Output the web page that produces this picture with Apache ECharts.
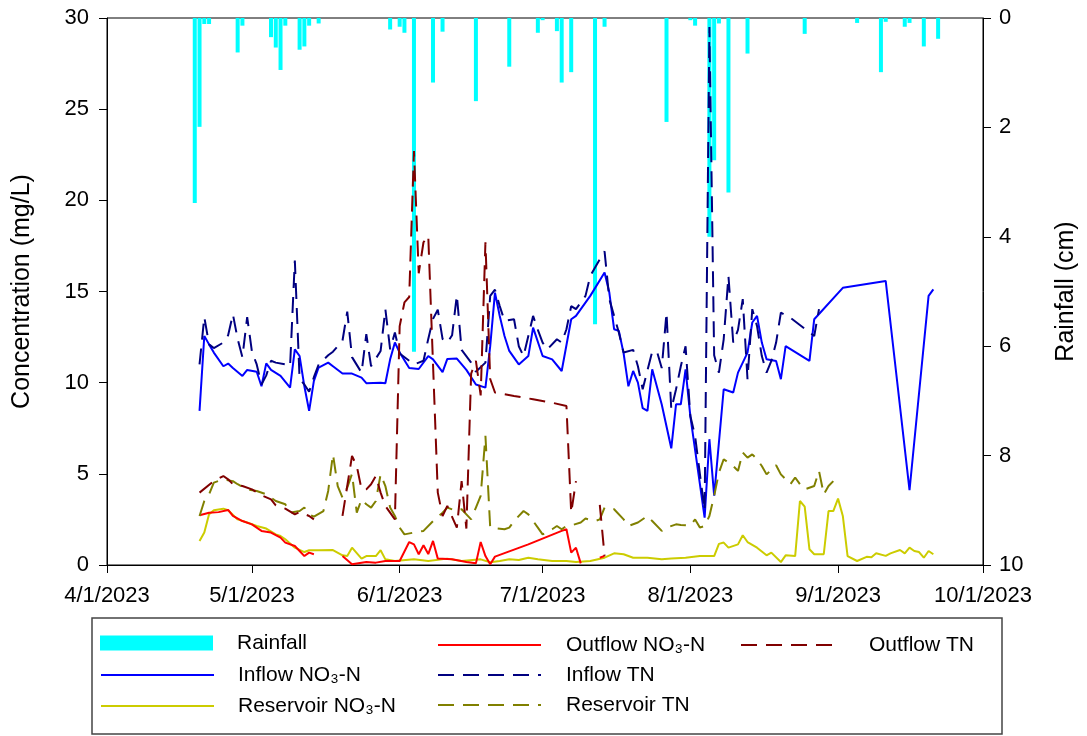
<!DOCTYPE html>
<html>
<head>
<meta charset="utf-8">
<script src="https://cdn.jsdelivr.net/npm/echarts@6/dist/echarts.min.js"></script>
<style>
  html, body { margin: 0; padding: 0; background: #fff; }
  #chart { width: 1087px; height: 736px; }
</style>
</head>
<body>
<div id="chart"></div>
<script>
// values, [month/day of 2023, value]
const rainfall = [['4/19',3.38],['4/20',1.99],['4/21',0.11],['4/22',0.11],['4/28',0.63],['4/29',0.14],
  ['5/5',0.35],['5/6',0.54],['5/7',0.95],['5/8',0.14],['5/11',0.58],['5/12',0.52],['5/13',0.14],['5/15',0.10],
  ['5/30',0.21],['6/1',0.16],['6/2',0.27],['6/4',6.10],['6/8',1.18],['6/10',0.25],['6/17',1.52],['6/24',0.89],
  ['6/30',0.27],['7/1',0.04],['7/4',0.24],['7/5',1.18],['7/7',0.99],['7/12',5.60],['7/14',0.16],['7/27',1.90],
  ['8/1',0.04],['8/2',0.14],['8/5',4.00],['8/6',2.60],['8/7',0.10],['8/9',3.19],['8/13',0.65],['8/25',0.29],
  ['9/5',0.09],['9/10',0.99],['9/11',0.07],['9/15',0.16],['9/16',0.09],['9/19',0.52],['9/22',0.38]];

const inflowNO3 = [['4/20',8.45],['4/21',12.56],['4/22',12.1],['4/23',11.65],['4/25',10.9],['4/26',11.05],
  ['4/27',10.8],['4/29',10.37],['4/30',10.7],['5/2',10.6],['5/3',9.8],['5/4',11.06],['5/5',10.7],['5/7',10.37],
  ['5/9',9.73],['5/10',11.83],['5/11',11.46],['5/12',9.8],['5/13',8.45],['5/14',10.1],['5/15',10.83],['5/17',11.1],
  ['5/18',10.9],['5/20',10.5],['5/22',10.5],['5/24',10.28],['5/25',9.97],['5/28',10.0],['5/29',9.97],['5/30',11.28],
  ['5/31',12.2],['6/1',11.65],['6/3',10.8],['6/5',10.75],['6/7',11.46],['6/8',11.28],['6/10',10.58],['6/11',11.3],
  ['6/13',11.32],['6/15',10.7],['6/17',9.9],['6/19',9.73],['6/20',12.0],['6/21',14.94],['6/22',13.66],['6/23',12.56],
  ['6/24',11.74],['6/26',11.0],['6/28',11.46],['6/29',13.02],['7/1',11.46],['7/3',11.28],['7/5',10.64],['7/7',13.48],
  ['7/8',13.66],['7/11',14.76],['7/14',16.04],['7/15',14.94],['7/16',12.93],['7/17',12.84],['7/18',11.6],['7/19',9.8],
  ['7/20',10.64],['7/21',10.0],['7/22',8.6],['7/23',8.45],['7/24',10.73],['7/26',8.8],['7/28',6.4],['7/29',8.81],
  ['7/30',8.81],['7/31',10.73],['8/1',8.17],['8/4',2.6],['8/5',6.9],['8/6',3.8],['8/8',9.64],['8/10',9.46],
  ['8/11',10.55],['8/13',11.65],['8/14',13.3],['8/15',13.66],['8/16',12.2],['8/17',11.28],['8/19',11.19],
  ['8/20',10.19],['8/21',12.0],['8/26',11.19],['8/27',13.48],['9/2',15.2],['9/11',15.58],['9/16',4.1],
  ['9/20',14.76],['9/21',15.12]];

const inflowTN = [['4/20',11.0],['4/21',13.6],['4/22',12.1],['4/23',11.9],['4/25',12.2],['4/26',12.6],
  ['4/27',13.75],['4/28',12.4],['4/29',11.4],['4/30',13.6],['5/1',11.7],['5/2',11.0],['5/3',9.9],['5/4',10.4],
  ['5/5',11.2],['5/6',11.1],['5/8',11.0],['5/9',10.9],['5/10',16.7],['5/11',10.2],['5/12',9.9],['5/13',9.5],
  ['5/14',10.3],['5/15',11.0],['5/17',11.5],['5/18',11.7],['5/20',12.3],['5/21',13.9],['5/22',11.4],['5/24',10.55],
  ['5/25',12.66],['5/26',10.9],['5/28',11.74],['5/29',14.03],['5/30',11.83],['5/31',12.75],['6/1',11.6],['6/3',11.2],
  ['6/4',11.0],['6/5',11.1],['6/6',11.2],['6/7',12.4],['6/8',13.5],['6/9',14.0],['6/10',12.4],['6/11',12.2],
  ['6/12',12.6],['6/13',14.8],['6/14',11.8],['6/16',11.1],['6/17',10.6],['6/19',11.1],['6/20',14.76],['6/21',15.1],
  ['6/22',14.2],['6/23',13.4],['6/25',13.48],['6/26',12.0],['6/27',11.46],['6/29',13.66],['6/30',12.9],['7/1',12.2],
  ['7/2',11.83],['7/4',12.38],['7/5',12.2],['7/6',12.93],['7/7',14.2],['7/8',14.03],['7/10',14.76],['7/11',15.85],
  ['7/13',16.77],['7/14',17.2],['7/15',14.58],['7/17',12.75],['7/18',11.65],['7/20',11.8],['7/21',10.9],['7/22',9.64],
  ['7/24',11.7],['7/25',11.7],['7/26',10.8],['7/27',13.84],['7/28',8.54],['7/29',9.64],['7/30',10.9],['7/31',12.0],
  ['8/1',8.17],['8/2',7.07],['8/3',5.0],['8/4',3.0],['8/5',29.5],['8/6',11.5],['8/7',10.55],['8/8',12.38],
  ['8/9',15.85],['8/10',12.2],['8/11',12.9],['8/12',14.58],['8/13',10.19],['8/14',14.03],['8/15',13.1],
  ['8/16',11.46],['8/17',10.55],['8/18',11.19],['8/19',12.2],['8/20',13.84],['8/22',13.56],['8/27',12.56],
  ['8/28',14.03]];

const outflowNO3 = [['4/20',2.73],['4/22',2.87],['4/24',2.9],['4/26',3.02],['4/27',2.69],['4/29',2.41],
  ['5/1',2.23],['5/3',1.87],['5/5',1.78],['5/7',1.5],['5/8',1.23],['5/10',1.04],['5/11',0.77],['5/12',0.49],
  ['5/13',0.68],['5/14',0.59],['5/17',null],['5/20',0.49],['5/22',0.04],['5/25',0.16],['5/27',0.13],['5/29',0.22],
  ['6/1',0.22],['6/3',1.26],['6/4',1.13],['6/5',0.59],['6/6',1.08],['6/7',0.6],['6/8',1.32],['6/9',0.35],
  ['6/12',0.31],['6/15',0.16],['6/17',0.09],['6/18',1.26],['6/19',0.49],['6/20',0.04],['6/21',0.46],['6/28',1.13],
  ['7/5',1.87],['7/6',1.96],['7/7',0.68],['7/8',0.95],['7/9',0.09],['7/11',null],['7/13',0.4],['7/14',0.5]];

const outflowTN = [['4/20',3.97],['4/23',4.6],['4/25',4.88],['4/26',4.7],['4/27',4.43],['4/29',4.33],
  ['5/1',4.15],['5/3',3.82],['5/5',3.6],['5/6',3.27],['5/8',3.09],['5/10',2.78],['5/11',2.9],['5/13',2.69],
  ['5/14',2.5],['5/17',null],['5/20',2.69],['5/22',5.98],['5/23',5.43],['5/24',4.15],['5/25',4.15],['5/26',4.43],
  ['5/27',4.88],['5/28',3.97],['5/29',3.24],['5/31',2.5],['6/1',13.1],['6/2',14.4],['6/3',14.7],['6/4',22.7],
  ['6/5',16.0],['6/6',17.7],['6/7',18.05],['6/9',3.97],['6/10',2.69],['6/11',3.24],['6/13',2.05],['6/14',4.6],
  ['6/15',2.0],['6/16',10.5],['6/17',11.2],['6/18',9.3],['6/19',17.7],['6/20',10.2],['6/21',9.46],['6/25',9.27],
  ['6/29',9.09],['7/3',8.9],['7/6',8.72],['7/7',2.87],['7/8',4.6],['7/10',null],['7/13',3.3],['7/14',0.5]];

const reservoirNO3 = [['4/20',1.32],['4/21',1.78],['4/22',2.78],['4/23',3.0],['4/25',3.09],['4/26',3.0],
  ['4/28',2.5],['4/30',2.33],['5/2',2.14],['5/4',2.0],['5/6',1.68],['5/7',1.59],['5/8',1.41],['5/10',0.95],
  ['5/12',0.71],['5/13',0.81],['5/15',0.81],['5/18',0.82],['5/20',0.53],['5/21',0.5],['5/22',0.95],['5/24',0.35],
  ['5/25',0.49],['5/27',0.49],['5/28',0.81],['5/29',0.31],['5/31',0.22],['6/4',0.31],['6/7',0.22],['6/11',0.35],
  ['6/14',0.22],['6/18',0.31],['6/20',0.15],['6/22',0.22],['6/24',0.31],['6/26',0.27],['6/28',0.4],['6/30',0.31],
  ['7/3',0.22],['7/6',0.22],['7/8',0.16],['7/11',0.22],['7/14',0.4],['7/16',0.64],['7/18',0.59],['7/20',0.4],
  ['7/23',0.4],['7/26',0.31],['7/28',0.35],['7/31',0.4],['8/3',0.49],['8/6',0.49],['8/7',1.16],['8/8',1.23],
  ['8/9',0.95],['8/11',1.13],['8/12',1.63],['8/13',1.26],['8/15',0.95],['8/17',0.53],['8/18',0.68],['8/20',0.16],
  ['8/21',0.53],['8/23',0.49],['8/24',3.51],['8/25',3.2],['8/26',0.86],['8/27',0.59],['8/29',0.59],['8/30',2.96],
  ['8/31',2.96],['9/1',3.64],['9/2',2.69],['9/3',0.49],['9/5',0.22],['9/7',0.45],['9/8',0.42],['9/9',0.64],
  ['9/11',0.5],['9/12',0.64],['9/14',0.82],['9/15',0.64],['9/16',0.95],['9/17',0.77],['9/18',0.71],['9/19',0.4],
  ['9/20',0.77],['9/21',0.59]];

const reservoirTN = [['4/20',2.69],['4/21',3.51],['4/22',3.88],['4/23',4.52],['4/25',4.7],['4/27',4.6],
  ['4/28',4.43],['4/30',4.15],['5/2',4.06],['5/4',3.88],['5/6',3.51],['5/8',3.33],['5/9',2.87],['5/11',2.96],
  ['5/12',3.15],['5/13',2.78],['5/14',2.65],['5/16',2.96],['5/17',4.06],['5/18',6.07],['5/19',4.33],['5/20',3.7],
  ['5/21',4.24],['5/22',5.0],['5/23',2.87],['5/24',3.6],['5/25',3.33],['5/26',3.15],['5/27',3.51],['5/28',4.97],
  ['5/29',4.33],['5/30',3.15],['5/31',2.69],['6/1',2.05],['6/2',1.68],['6/4',1.78],['6/6',1.87],['6/8',2.41],
  ['6/10',2.87],['6/11',3.15],['6/13',2.96],['6/14',3.06],['6/15',2.78],['6/16',2.5],['6/17',3.15],['6/18',3.79],
  ['6/19',7.08],['6/20',2.05],['6/23',1.96],['6/24',2.05],['6/25',2.41],['6/27',2.96],['6/28',2.78],['6/30',2.05],
  ['7/1',1.68],['7/3',1.96],['7/4',2.14],['7/5',1.96],['7/6',2.14],['7/7',2.17],['7/9',2.33],['7/10',2.55],
  ['7/12',2.41],['7/13',2.5],['7/14',3.15],['7/16',3.06],['7/18',2.5],['7/19',2.14],['7/21',2.33],['7/23',2.69],
  ['7/24',2.41],['7/26',1.87],['7/27',2.05],['7/29',2.23],['7/30',2.2],['8/1',2.17],['8/2',2.5],['8/3',2.05],
  ['8/4',2.14],['8/5',2.69],['8/6',3.79],['8/7',5.07],['8/8',5.8],['8/10',5.43],['8/11',5.16],['8/12',6.17],
  ['8/13',5.89],['8/14',6.07],['8/15',5.8],['8/16',5.43],['8/17',4.97],['8/19',5.47],['8/20',4.97],['8/22',4.43],
  ['8/23',4.8],['8/24',4.43],['8/25',4.15],['8/27',4.33],['8/28',5.16],['8/29',3.88],['8/30',4.33],['8/31',4.6]];

const FONT = 'Liberation Sans, Arial, sans-serif';

function toTime(md) {
  const [m, d] = md.split('/').map(Number);
  return new Date(2023, m - 1, d).getTime();
}
function pts(arr) {
  return arr.map(p => [toTime(p[0]), p[1]]);
}

function lineSeries(name, data, color, dashed) {
  return {
    name: name,
    type: 'line',
    data: pts(data),
    symbol: 'none',
    showSymbol: false,
    connectNulls: false,
    z: 3,
    lineStyle: { color: color, width: 2, type: dashed ? [16, 9] : 'solid' },
    itemStyle: { color: color }
  };
}

function legendAt(name, left, centerY, w, pad) {
  return {
    data: [name],
    left: left,
    top: centerY - 12,
    padding: 0,
    itemWidth: w,
    itemHeight: 15,
    selectedMode: false,
    itemStyle: { opacity: 0 },
    textStyle: { fontFamily: FONT, fontSize: 21, color: '#000', lineHeight: 24, padding: [0, 0, 0, pad] }
  };
}

const chart = echarts.init(document.getElementById('chart'));
chart.setOption({
  animation: false,
  backgroundColor: '#fff',
  grid: { left: 107, top: 18, width: 877, height: 547, show: true, borderColor: '#000', borderWidth: 1 },
  graphic: [{
    type: 'rect',
    shape: { x: 92, y: 618, width: 910, height: 116 },
    style: { fill: 'none', stroke: '#444', lineWidth: 1.5 }
  }],
  legend: [
    Object.assign(legendAt('Rainfall', 100, 643, 113, 19), { icon: 'rect', itemStyle: { opacity: 1 } }),
    legendAt('Inflow NO₃-N', 100, 675, 113, 19),
    legendAt('Reservoir NO₃-N', 100, 706, 113, 19),
    legendAt('Outflow NO₃-N', 437, 645, 103, 20),
    legendAt('Inflow TN', 437, 675, 103, 20),
    legendAt('Reservoir TN', 437, 705, 103, 20),
    legendAt('Outflow TN', 740, 645, 95, 28)
  ],
  xAxis: {
    type: 'time',
    min: toTime('4/1'),
    max: toTime('10/1'),
    minInterval: 28 * 86400000,
    maxInterval: 31 * 86400000,
    axisLine: { lineStyle: { color: '#000', width: 1 } },
    axisTick: { show: true, length: 8, lineStyle: { color: '#000' } },
    splitLine: { show: false },
    axisLabel: {
      margin: 20, color: '#000', fontFamily: FONT, fontSize: 22,
      showMinLabel: true, showMaxLabel: true,
      formatter: function (v) {
        const d = new Date(v + 12 * 3600000);
        return (d.getMonth() + 1) + '/' + d.getDate() + '/' + d.getFullYear();
      }
    }
  },
  yAxis: [{
    type: 'value',
    min: 0, max: 30, interval: 5,
    name: 'Concentration (mg/L)',
    nameLocation: 'middle',
    nameRotate: 90,
    nameGap: 72,
    nameTextStyle: { fontFamily: FONT, fontSize: 25, color: '#000' },
    axisLine: { show: true, lineStyle: { color: '#000', width: 1 } },
    axisTick: { show: true, length: 8, lineStyle: { color: '#000' } },
    splitLine: { show: false },
    axisLabel: { margin: 18, color: '#000', fontFamily: FONT, fontSize: 22 }
  }, {
    type: 'value',
    min: 0, max: 10, interval: 2,
    inverse: true,
    position: 'right',
    name: 'Rainfall (cm)',
    nameLocation: 'middle',
    nameRotate: 90,
    nameGap: 71,
    nameTextStyle: { fontFamily: FONT, fontSize: 25, color: '#000' },
    axisLine: { show: true, lineStyle: { color: '#000', width: 1 } },
    axisTick: { show: true, length: 8, lineStyle: { color: '#000' } },
    splitLine: { show: false },
    axisLabel: { margin: 16, color: '#000', fontFamily: FONT, fontSize: 22 }
  }],
  series: [
    {
      name: 'Rainfall',
      type: 'bar',
      yAxisIndex: 1,
      data: pts(rainfall),
      barWidth: 4,
      z: 2,
      itemStyle: { color: '#00ffff' }
    },
    lineSeries('Inflow NO₃-N', inflowNO3, '#0000ff', false),
    lineSeries('Reservoir NO₃-N', reservoirNO3, '#cccc00', false),
    lineSeries('Outflow NO₃-N', outflowNO3, '#ff0000', false),
    lineSeries('Inflow TN', inflowTN, '#000080', true),
    lineSeries('Reservoir TN', reservoirTN, '#808000', true),
    lineSeries('Outflow TN', outflowTN, '#800000', true)
  ]
});
</script>
</body>
</html>
